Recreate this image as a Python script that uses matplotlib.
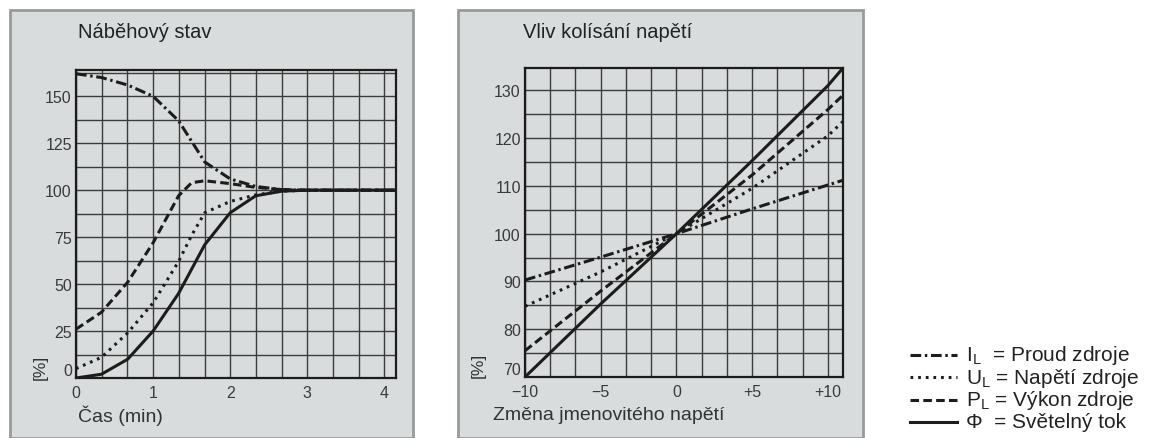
import matplotlib.pyplot as plt
from matplotlib.patches import Rectangle
from matplotlib.lines import Line2D
from matplotlib.ticker import MultipleLocator
import numpy as np

plt.rcParams['font.family'] = ['Liberation Sans', 'DejaVu Sans']
plt.rcParams['mathtext.fontset'] = 'custom'
plt.rcParams['mathtext.rm'] = 'Liberation Sans'

# Nabehovy stav (cas v min, hodnoty v %)
t_min = [0, 0.33, 0.67, 1.0, 1.33, 1.5, 1.67, 2.0, 2.33, 2.67, 3.0, 3.5, 4.15]
nab_proud = [162, 160, 156, 150, 137, 126, 115, 106, 102, 100.3, 100, 100, 100]
nab_napeti = [5, 11, 24, 40, 62, 76, 88, 94, 97.5, 99.5, 100, 100, 100]
nab_vykon = [26, 35, 51, 72, 97, 104, 105, 103.5, 101.5, 100.3, 100, 100, 100]
nab_tok = [0, 2, 10, 25, 45, 58, 71, 88, 97, 99.5, 100, 100, 100]

# Vliv kolisani napeti (zmena v %, hodnoty v %)
zmena = [-10, -5, 0, 5, 10, 11]
kol_proud = [90.3, 95.1, 100, 105.2, 110.2, 111.2]
kol_napeti = [84.8, 92, 100, 109.5, 120.5, 123.5]
kol_vykon = [75.5, 88, 100, 112.3, 126, 129]
kol_tok = [70, 85.3, 100, 115.3, 131, 134.7]

left_yticks = [0, 25, 50, 75, 100, 125, 150]
left_xticks = [0, 1, 2, 3, 4]
right_yticks = [70, 80, 90, 100, 110, 120, 130]
right_xticks = [-10, -5, 0, 5, 10]
right_xlabels = ['\u221210', '\u22125', '0', '+5', '+10']

legend_labels = [r'I$_\mathrm{L}$  = Proud zdroje', r'U$_\mathrm{L}$ = Napětí zdroje',
                 r'P$_\mathrm{L}$ = Výkon zdroje', 'Φ  = Světelný tok']

ink = '#1c1c1c'
styles = [(0, (3.5, 1.2, 0.8, 1.2)), (0, (0.9, 1.6)), (0, (2.8, 1.4)), '-']

W, H = 1160, 439
fig = plt.figure(figsize=(W / 100, H / 100), dpi=100)
fig.patch.set_facecolor('white')

panel_bg = '#d9dcdc'
for x0, x1 in [(10, 413), (458, 863)]:
    fig.patches.append(Rectangle((x0 / W, 0), (x1 - x0) / W, (H - 11) / H,
                                 transform=fig.transFigure, facecolor=panel_bg,
                                 edgecolor='#9a9a9a', lw=2, zorder=-5))

ax1 = fig.add_axes([76 / W, (H - 379) / H, 320 / W, 308 / H])
ax2 = fig.add_axes([525 / W, (H - 378) / H, 318 / W, 309 / H])

for y, st in zip([nab_proud, nab_napeti, nab_vykon, nab_tok], styles):
    ax1.plot(t_min, y, color=ink, lw=2.2, linestyle=st)
ax1.set_xlim(0, 4.15)
ax1.set_ylim(0, 164)
ax1.set_xticks(left_xticks)
ax1.set_yticks(left_yticks)
ax1.xaxis.set_minor_locator(MultipleLocator(1 / 3))
ax1.yaxis.set_minor_locator(MultipleLocator(12.5))

for y, st in zip([kol_proud, kol_napeti, kol_vykon, kol_tok], styles):
    ax2.plot(zmena, y, color=ink, lw=2.2, linestyle=st)
ax2.set_xlim(-10, 11)
ax2.set_ylim(70, 134.7)
ax2.set_xticks(right_xticks)
ax2.set_xticklabels(right_xlabels)
ax2.set_yticks(right_yticks)
ax2.xaxis.set_minor_locator(MultipleLocator(5 / 3))
ax2.yaxis.set_minor_locator(MultipleLocator(5))

for ax in (ax1, ax2):
    ax.set_facecolor(panel_bg)
    for s in ax.spines.values():
        s.set_linewidth(1.6)
        s.set_color(ink)
    ax.grid(which='both', color='#3c3c3c', lw=1.0)
    ax.set_axisbelow(True)
    ax.tick_params(which='both', length=0, labelsize=11.5, colors='#3a3a3a', pad=3)
    ax.tick_params(axis='x', pad=5)

# "70" lezi v originale tesne nad "-10"
ax2.get_yticklabels()[0].set_va('bottom')
ax1.get_yticklabels()[0].set_va('bottom')

def ft(x, y, s, **kw):
    fig.text(x / W, 1 - y / H, s, **kw)

ft(78, 33, 'Náběhový stav', fontsize=14.5, color='#222', va='center')
ft(523, 33, 'Vliv kolísání napětí', fontsize=14.5, color='#222', va='center')
ft(78, 416, 'Čas (min)', fontsize=14, color='#333', va='center')
ft(493, 416, 'Změna jmenovitého napětí', fontsize=14, color='#333', va='center')
ft(40, 367, '[%]', fontsize=12.5, color='#333', rotation=90, ha='center', va='center')
ft(478, 365, '[%]', fontsize=12.5, color='#333', rotation=90, ha='center', va='center')

# legenda vpravo dole
for i, (lab, st) in enumerate(zip(legend_labels, styles)):
    yc = 356 + i * 22.3
    fig.lines.append(Line2D([910 / W, 957 / W], [1 - yc / H, 1 - yc / H],
                            transform=fig.transFigure, color=ink, lw=2.2, linestyle=st))
    ft(966, yc, lab, fontsize=15, color='#222', va='center')

fig.savefig('out.png', dpi=100)
